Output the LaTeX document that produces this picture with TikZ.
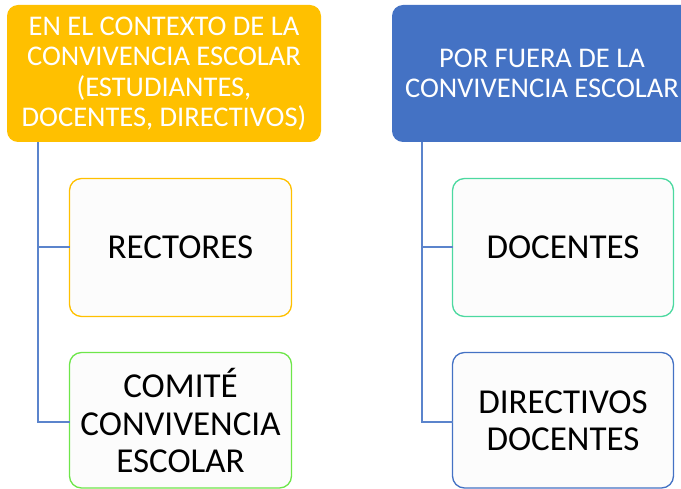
\documentclass[tikz,border=0pt]{standalone}
\usepackage{fontspec}
\setmainfont{Carlito}
\definecolor{hyellow}{HTML}{FFC000}
\definecolor{hblue}{HTML}{4472C4}
\definecolor{lnblue}{HTML}{5B84CC}
\definecolor{cgreen}{HTML}{6EE64A}
\definecolor{cteal}{HTML}{4CD9A0}
\definecolor{cfill}{HTML}{FCFCFC}
\begin{document}
\begin{tikzpicture}[x=1pt,y=-1pt,
  header/.style={rounded corners=11pt, text=white, font=\fontsize{28.5}{30.5}\selectfont, align=center},
  child/.style={rounded corners=12pt, fill=cfill, line width=1.3pt, font=\fontsize{35}{37.5}\selectfont, align=center, text=black},
  conn/.style={draw=lnblue, line width=1.2pt}]
\useasboundingbox (0,0) rectangle (681,489);
\clip (0,0) rectangle (681,489);
% headers
\path[header, fill=hyellow] (7,5) rectangle (321,142);
\node[header] (h1) at (164,73.5) {EN EL CONTEXTO DE LA\\CONVIVENCIA ESCOLAR\\(ESTUDIANTES,\\DOCENTES, DIRECTIVOS)};
\path[header, fill=hblue] (392,5) rectangle (692,142);
\node[header] (h2) at (542,73.5) {POR FUERA DE LA\\CONVIVENCIA ESCOLAR};
% children
\path[child, draw=hyellow] (69.5,178.5) rectangle (291.5,316.5);
\node[child, fill=none, draw=none] (c1) at (180.5,247.5) {RECTORES};
\path[child, draw=cgreen] (69.5,352.5) rectangle (291.5,488);
\node[child, fill=none, draw=none] (c2) at (180.5,421) {COMITÉ\\CONVIVENCIA\\ESCOLAR};
\path[child, draw=cteal] (452.5,178.5) rectangle (673.5,316.5);
\node[child, fill=none, draw=none] (c3) at (563,247.5) {DOCENTES};
\path[child, draw=hblue] (452.5,352.5) rectangle (673.5,488);
\node[child, fill=none, draw=none] (c4) at (563,421) {DIRECTIVOS\\DOCENTES};
% connectors
\coordinate (a1) at (38,142);
\coordinate (b1) at (38,422);
\coordinate (a2) at (422,142);
\coordinate (b2) at (422,422);
\draw[conn] (a1) -- (b1) -- (69.5,422);
\draw[conn] (38,247) -- (69.5,247);
\draw[conn] (a2) -- (b2) -- (452.5,422);
\draw[conn] (422,247) -- (452.5,247);
\end{tikzpicture}
\end{document}
